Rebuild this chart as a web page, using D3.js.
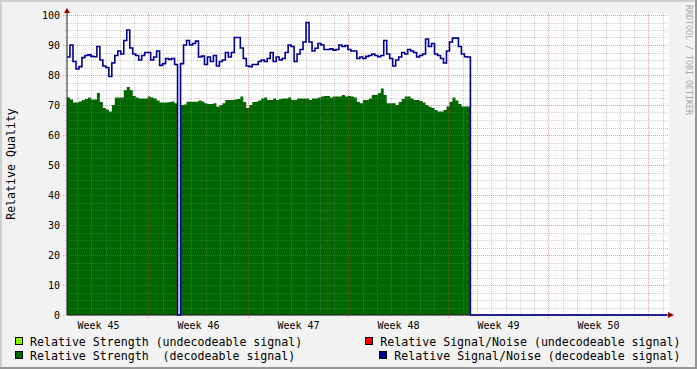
<!DOCTYPE html>
<html>
<head>
<meta charset="utf-8">
<script src="https://cdn.jsdelivr.net/npm/d3@7"></script>
<style>
  body { margin: 0; background: #f2f2f2; }
  svg text { font-family: "DejaVu Sans Mono", monospace; white-space: pre; }
</style>
</head>
<body>
<svg id="chart" width="697" height="369"></svg>
<script>
(function() {
'use strict';

var weekLabels = ['Week 45', 'Week 46', 'Week 47', 'Week 48', 'Week 49', 'Week 50'];
var yTicks = [0, 10, 20, 30, 40, 50, 60, 70, 80, 90, 100];

// relative strength, decodeable signal (one value per 5h sample)
var strength = [
    72.5, 71.8, 70.8, 70.8, 71.2, 71.7, 72, 72.5, 71.8, 71.8,
    74, 71, 69, 68.5, 67.8, 70, 72.5, 72.5, 72.5, 75,
    76, 75, 73, 72.5, 72.2, 72.2, 72.2, 72.8, 72.5, 72.2,
    71.5, 70.8, 70.8, 70.8, 71, 71.2, 70.6, 0, 70, 70.2,
    71.1, 71.1, 71.1, 71.1, 71.5, 71.2, 70.6, 70.3, 70.3, 70.6,
    69.4, 70, 70.6, 71.7, 71.7, 71.7, 71.8, 72, 72.8, 71,
    69, 70, 71, 71.1, 71.5, 72.2, 72.5, 71.7, 71.7, 72.2,
    71.7, 72, 72.2, 72.2, 72.5, 71.7, 71.7, 72.2, 72.2, 72.2,
    72.2, 71.7, 72.2, 72.2, 72.5, 72.8, 73, 73, 72.5, 72.8,
    72.8, 72.8, 73.3, 72.8, 73, 72.8, 72.5, 71.1, 70.6, 71.7,
    71.7, 72.2, 73.3, 73.3, 73.9, 75.5, 73.3, 70.6, 70.6, 70.6,
    70, 71, 72, 72.8, 72.8, 72.2, 71.7, 71.7, 71.3, 70.8,
    70, 69.4, 69, 68.3, 67.8, 67.8, 68.3, 69.5, 71.1, 72.5,
    71.5, 70.3, 69.5, 69.5, 69.5, 0
];

// relative signal/noise, decodeable signal
var snr = [
    86, 90, 84.5, 82, 82.8, 85.8, 86.5, 86.7, 86.2, 86.1,
    89.5, 85, 83, 82.5, 79.5, 84, 86.5, 88, 87, 91.5,
    95, 89, 87, 86.5, 85, 86.5, 87.5, 87.5, 85, 86,
    88, 83.2, 83.8, 85.5, 85.2, 85.5, 83.5, 0, 83.8, 90,
    91.5, 90, 90.5, 91.3, 86, 86.3, 83.5, 86, 84.5, 86.5,
    83, 84.5, 85, 87.5, 86, 87.5, 92.5, 92.5, 89, 85.5,
    83, 82.8, 83.5, 83.5, 84.5, 85, 84.5, 85.5, 87.5, 84.5,
    86, 85, 85.5, 87.5, 90, 89.5, 84.5, 87, 88.5, 91,
    97.5, 91, 88, 88.9, 90.5, 90, 88.5, 88.5, 88.7, 88.3,
    88.5, 90, 89.5, 89.8, 88.5, 88, 88, 85.5, 86, 85.5,
    86.2, 86.5, 87, 86.5, 86.1, 86.5, 91.5, 87, 85.5, 83,
    85, 86, 87.5, 87, 88.5, 88, 87.5, 86, 86.5, 87,
    92, 89.5, 90.5, 87, 86.5, 85.5, 84, 88, 91, 92.3,
    92.3, 89.5, 87, 86.1, 86, 0
];

var legendNames = [
    'Relative Strength (undecodeable signal)',
    'Relative Signal/Noise (undecodeable signal)',
    'Relative Strength  (decodeable signal)',
    'Relative Signal/Noise (decodeable signal)'
];
var legendColors = ['#80ff00', '#ff0000', '#006600', '#000090'];

var start = new Date(Date.UTC(2009, 10, 3, 7, 6));
var end = d3.utcDay.offset(start, 42);
var stepMs = 5.02 * 36e5;

var svg = d3.select('#chart');
var x = d3.scaleUtc().domain([start, end]).range([67, 667]);
var y = d3.scaleLinear().domain([0, 100]).range([315, 15]);

function series(values) {
    return values.map(function (v, i) {
        return { t: new Date(+start + i * stepMs), v: v };
    }).concat([{ t: end, v: 0 }]);
}
function px(v) { return Math.round(v) + 0.5; }

// background and 3d frame
svg.append('rect').attr('width', 697).attr('height', 369).attr('fill', '#f2f2f2');
svg.append('rect').attr('width', 697).attr('height', 2).attr('fill', '#cfcfcf');
svg.append('rect').attr('width', 2).attr('height', 369).attr('fill', '#cfcfcf');
svg.append('rect').attr('y', 367).attr('width', 697).attr('height', 2).attr('fill', '#969696');
svg.append('rect').attr('x', 695).attr('width', 2).attr('height', 369).attr('fill', '#969696');

svg.append('rect')
    .attr('x', 67).attr('y', 13).attr('width', 602).attr('height', 302)
    .attr('fill', '#fff');

svg.append('path')
    .datum(series(strength))
    .attr('fill', '#006600')
    .attr('d', d3.area().curve(d3.curveStepAfter)
        .x(function (d) { return x(d.t); })
        .y0(y(0))
        .y1(function (d) { return y(d.v); }));

// grid
var grid = svg.append('g')
    .attr('stroke-dasharray', '1,1')
    .attr('shape-rendering', 'crispEdges');

var minorY = d3.range(0, 101, 2.5).filter(function (v) { return v % 10 !== 0; });
var mondays = d3.utcMonday.range(start, end);
var days = d3.utcDay.range(start, end).filter(function (d) { return d.getUTCDay() !== 1; });

grid.selectAll('.gy').data(minorY).enter().append('line')
    .attr('x1', 65).attr('x2', 669)
    .attr('y1', function (d) { return px(y(d)); })
    .attr('y2', function (d) { return px(y(d)); })
    .attr('stroke', 'rgba(140,140,140,0.4)');

grid.selectAll('.gx').data(days).enter().append('line')
    .attr('x1', function (d) { return px(x(d)); })
    .attr('x2', function (d) { return px(x(d)); })
    .attr('y1', 13).attr('y2', 317)
    .attr('stroke', 'rgba(140,140,140,0.4)');

grid.selectAll('.my').data(yTicks).enter().append('line')
    .attr('x1', 63).attr('x2', 669)
    .attr('y1', function (d) { return px(y(d)); })
    .attr('y2', function (d) { return px(y(d)); })
    .attr('stroke', 'rgba(225,60,60,0.5)');

grid.selectAll('.mx').data(mondays).enter().append('line')
    .attr('x1', function (d) { return px(x(d)); })
    .attr('x2', function (d) { return px(x(d)); })
    .attr('y1', 13).attr('y2', 318)
    .attr('stroke', 'rgba(225,60,60,0.5)');

// axes
svg.append('line').attr('x1', 67).attr('x2', 67).attr('y1', 315).attr('y2', 12)
    .attr('stroke', '#202020');
svg.append('line').attr('x1', 67).attr('x2', 669).attr('y1', 315).attr('y2', 315)
    .attr('stroke', '#202020');

svg.append('path')
    .datum(series(snr))
    .attr('fill', 'none')
    .attr('stroke', '#000090')
    .attr('stroke-width', 1.6)
    .attr('d', d3.line().curve(d3.curveStepAfter)
        .x(function (d) { return x(d.t); })
        .y(function (d) { return y(d.v); }));

svg.append('path').attr('d', 'M64,13L70,13L67,8Z').attr('fill', '#8b0000');
svg.append('path').attr('d', 'M668,312L668,318L674,315Z').attr('fill', '#8b0000');

// axis labels
svg.selectAll('.ylab').data(yTicks).enter().append('text')
    .attr('x', 60)
    .attr('y', function (d) { return y(d) + 3.7; })
    .attr('text-anchor', 'end')
    .style('font-size', '10px')
    .text(function (d) { return d; });

svg.selectAll('.xlab').data(weekLabels).enter().append('text')
    .attr('x', function (d, i) {
        var mon = d3.utcMonday.offset(d3.utcMonday.floor(start), i);
        return x(new Date(+mon + 3.5 * 864e5));
    })
    .attr('y', 329)
    .attr('text-anchor', 'middle')
    .style('font-size', '10px')
    .text(function (d) { return d; });

svg.append('text')
    .attr('transform', 'translate(15,164) rotate(-90)')
    .attr('text-anchor', 'middle')
    .style('font-size', '11.6px')
    .text('Relative Quality');

svg.append('text')
    .attr('transform', 'translate(685.7,5) rotate(90)')
    .attr('fill', '#a8a8a8')
    .style('font-size', '8.3px')
    .text('RRDTOOL / TOBI OETIKER');

// legend: left column left aligned, right column right aligned
legendNames.forEach(function (name, i) {
    var row = Math.floor(i / 2);
    var base = 345.5 + row * 14;
    var t = svg.append('text')
        .attr('y', base)
        .style('font-size', '11.6px')
        .text(name);
    var bx;
    if (i % 2 === 0) {
        t.attr('x', 30);
        bx = 15;
    } else {
        t.attr('x', 680.5).attr('text-anchor', 'end');
        bx = 680.5 - t.node().getComputedTextLength() - 15;
    }
    svg.append('rect')
        .attr('x', Math.round(bx) + 0.5).attr('y', base - 8)
        .attr('width', 7).attr('height', 7)
        .attr('fill', legendColors[i])
        .attr('stroke', '#000');
});

})();
</script>
</body>
</html>
